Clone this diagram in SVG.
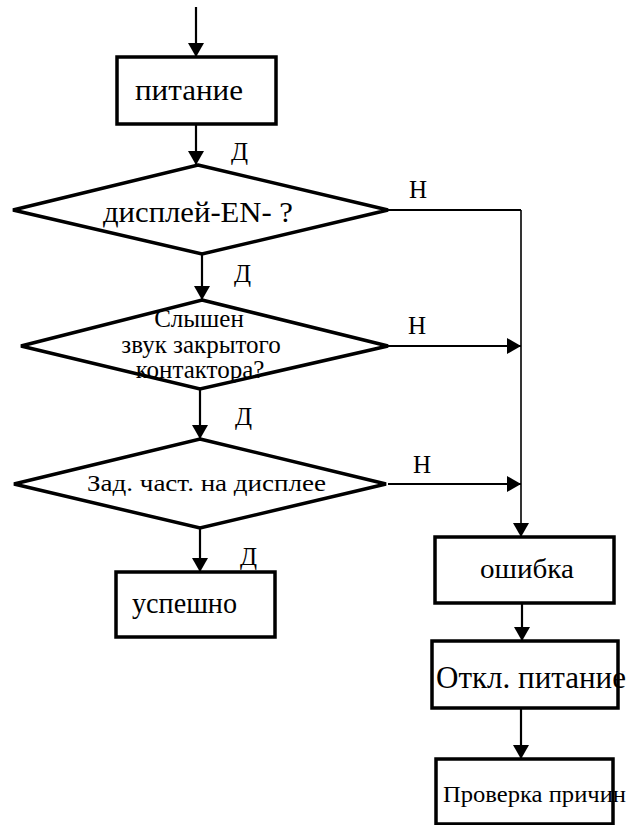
<svg xmlns="http://www.w3.org/2000/svg" width="628" height="825" viewBox="0 0 628 825" font-family="'Liberation Serif', 'DejaVu Serif', serif">
<defs>
<marker id="ah" viewBox="0 0 14 16" refX="14" refY="8" markerWidth="14" markerHeight="16" markerUnits="userSpaceOnUse" orient="auto">
<path d="M0,0 L14,8 L0,16 Z" fill="#000"/>
</marker>
</defs>
<style>
.box{fill:#fff;stroke:#000;stroke-width:3.5}
.dia{fill:#fff;stroke:#000;stroke-width:3.5;stroke-linejoin:miter}
.ln{fill:none;stroke:#000;stroke-width:2.2}
.thin{fill:none;stroke:#000;stroke-width:1.6}
.t{font-family:'Liberation Serif', 'DejaVu Serif', serif;fill:#000}
.lbl{font-size:25px}
</style>
<rect width="628" height="825" fill="#fff"/>
<g id="connectors">
<line class="ln" x1="196" y1="7" x2="196" y2="57" marker-end="url(#ah)"/>
<line class="ln" x1="196" y1="124" x2="196" y2="165" marker-end="url(#ah)"/>
<line class="ln" x1="202" y1="254" x2="202" y2="300" marker-end="url(#ah)"/>
<line class="ln" x1="200" y1="389" x2="200" y2="439" marker-end="url(#ah)"/>
<line class="ln" x1="200" y1="528" x2="200" y2="572" marker-end="url(#ah)"/>
<polyline class="ln" points="388,210 521,210"/>
<line class="thin" x1="521" y1="210" x2="521" y2="537" marker-end="url(#ah)"/>
<line class="ln" x1="388" y1="346" x2="521" y2="346" marker-end="url(#ah)"/>
<line class="ln" x1="388" y1="484" x2="521" y2="484" marker-end="url(#ah)"/>
<line class="ln" x1="522" y1="603" x2="522" y2="641" marker-end="url(#ah)"/>
<line class="ln" x1="521" y1="708" x2="521" y2="759" marker-end="url(#ah)"/>
<text class="t lbl" x="231" y="160">Д</text>
<text class="t lbl" x="409" y="198">Н</text>
<text class="t lbl" x="234" y="282">Д</text>
<text class="t lbl" x="408" y="334">Н</text>
<text class="t lbl" x="235" y="425">Д</text>
<text class="t lbl" x="413" y="473">Н</text>
<text class="t lbl" x="240" y="565">Д</text>
</g>
<g id="n-pitanie">
<rect class="box" x="117" y="57" width="159" height="67"/>
<text class="t" x="135" y="100" font-size="30" textLength="108" lengthAdjust="spacingAndGlyphs">питание</text>
</g>
<g id="d-display">
<polygon class="dia" points="198,165 388,210 202,254 13,210"/>
<text class="t" x="103" y="222" font-size="30" textLength="190" lengthAdjust="spacingAndGlyphs">дисплей-EN- ?</text>
</g>
<g id="d-zvuk">
<polygon class="dia" points="202,300 388,346 200,389 21,346"/>
<text class="t" x="199" y="327" font-size="25" text-anchor="middle">Слышен</text>
<text class="t" x="201" y="353" font-size="25" text-anchor="middle">звук закрытого</text>
<text class="t" x="200" y="378" font-size="25" text-anchor="middle">контактора?</text>
</g>
<g id="d-freq">
<polygon class="dia" points="200,439 386,484 200,528 14,484"/>
<text class="t" x="87" y="491" font-size="24" textLength="239" lengthAdjust="spacingAndGlyphs">Зад. част. на дисплее</text>
</g>
<g id="n-uspeshno">
<rect class="box" x="116" y="572" width="159" height="65"/>
<text class="t" x="132" y="613" font-size="29" textLength="105" lengthAdjust="spacingAndGlyphs">успешно</text>
</g>
<g id="n-oshibka">
<rect class="box" x="435" y="537" width="179" height="66"/>
<text class="t" x="480" y="578" font-size="28" textLength="94" lengthAdjust="spacingAndGlyphs">ошибка</text>
</g>
<g id="n-otkl">
<rect class="box" x="432" y="641" width="186" height="67"/>
<text class="t" x="436" y="688" font-size="31" textLength="190" lengthAdjust="spacingAndGlyphs">Откл. питание</text>
</g>
<g id="n-proverka">
<rect class="box" x="436" y="759" width="177" height="65"/>
<text class="t" x="443" y="802" font-size="24" textLength="183" lengthAdjust="spacingAndGlyphs">Проверка причин</text>
</g>
</svg>
